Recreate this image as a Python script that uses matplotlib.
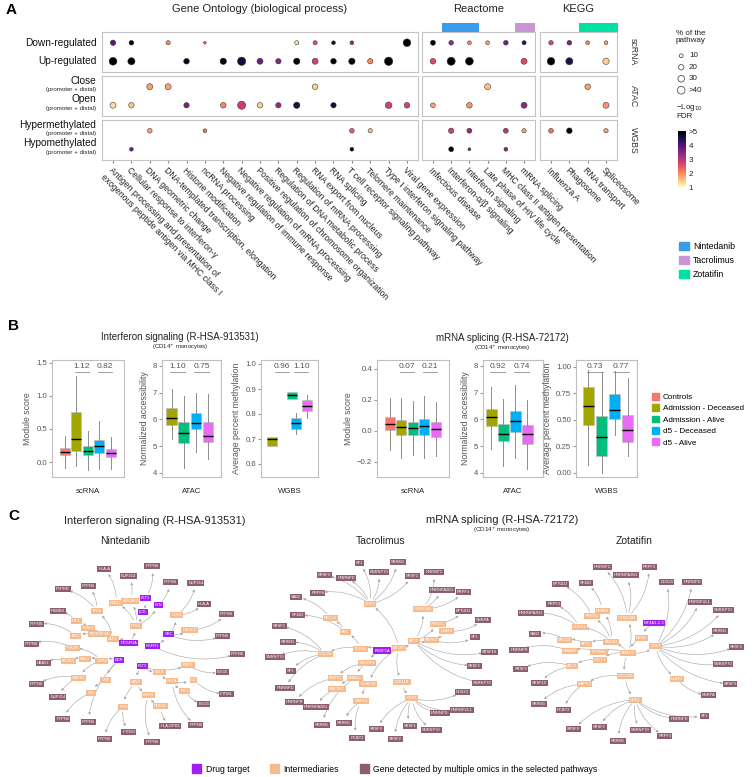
import numpy as np
import matplotlib
matplotlib.use("Agg")
import matplotlib.pyplot as plt
import matplotlib.transforms as mtransforms
from matplotlib.patches import Patch, Rectangle, FancyArrowPatch
from matplotlib.colors import Normalize
from matplotlib.cm import ScalarMappable

plt.rcParams['font.family'] = ['Liberation Sans', 'DejaVu Sans']

# ---------------- panel A data ----------------
row_labels = ['Down-regulated', 'Up-regulated', 'Close', 'Open', 'Hypermethylated', 'Hypomethylated']
row_subs = ['', '', '(promoter + distal)', '(promoter + distal)', '(promoter + distal)', '(promoter + distal)']
omics = ['scRNA', 'ATAC', 'WGBS']

go_terms = ['Antigen processing and presentation of\nexogenous peptide antigen via MHC class I',
            'Cellular response to interferon-γ', 'DNA geometric change',
            'DNA-templated transcription, elongation', 'Histone modification', 'ncRNA processing',
            'Negative regulation of immune response', 'Negative regulation of mRNA processing',
            'Positive regulation of chromosome organization', 'Regulation of DNA metabolic process',
            'Regulation of mRNA processing', 'RNA export from nucleus', 'RNA splicing',
            'T cell receptor signaling pathway', 'Telomere maintenance',
            'Type I interferon signaling pathway', 'Viral gene expression']
go_pct = [[20, 15, 0, 12, 0, 5, 0, 0, 0, 0, 12, 12, 10, 10, 0, 0, 40],
          [42, 35, 0, 0, 22, 0, 28, 48, 25, 20, 28, 25, 22, 28, 20, 48, 0],
          [0, 0, 25, 25, 0, 0, 0, 0, 0, 0, 0, 22, 0, 0, 0, 0, 0],
          [25, 20, 0, 0, 20, 0, 22, 45, 22, 20, 28, 0, 20, 0, 0, 30, 22],
          [0, 0, 15, 0, 0, 10, 0, 0, 0, 0, 0, 0, 0, 15, 13, 0, 0],
          [0, 10, 0, 0, 0, 0, 0, 0, 0, 0, 0, 0, 0, 10, 0, 0, 0]]
go_fdr = [[3.9, 5, 0, 2.0, 0, 2.2, 0, 0, 0, 0, 1.3, 2.5, 4.6, 3.3, 0, 0, 5],
          [5, 5, 0, 0, 4.8, 0, 5, 4.6, 3.7, 3.5, 5, 2.7, 5, 5, 2.0, 5, 0],
          [0, 0, 1.8, 1.8, 0, 0, 0, 0, 0, 0, 0, 1.4, 0, 0, 0, 0, 0],
          [1.3, 1.5, 0, 0, 3.6, 0, 2.0, 2.8, 1.4, 3.3, 4.5, 0, 4.6, 0, 0, 2.7, 2.7],
          [0, 0, 1.8, 0, 0, 2.2, 0, 0, 0, 0, 0, 0, 0, 2.4, 1.6, 0, 0],
          [0, 3.7, 0, 0, 0, 0, 0, 0, 0, 0, 0, 0, 0, 4.8, 0, 0, 0]]

reactome_terms = ['Infectious disease', 'Interferon-α/β signaling', 'Interferon signaling',
                  'Late phase of HIV life cycle', 'MHC class II antigen presentation', 'mRNA splicing']
reactome_pct = [[18, 15, 10, 10, 15, 12],
                [22, 45, 42, 0, 0, 25],
                [0, 0, 0, 25, 0, 0],
                [15, 0, 22, 0, 0, 25],
                [0, 20, 17, 0, 17, 13],
                [0, 17, 6, 0, 10, 0]]
reactome_fdr = [[5, 3.3, 2.0, 1.8, 3.7, 4.3],
                [2.6, 5, 5, 0, 0, 2.6],
                [0, 0, 0, 1.5, 0, 0],
                [1.8, 0, 1.9, 0, 0, 3.4],
                [0, 2.8, 3.3, 0, 3.0, 1.8],
                [0, 5, 3.5, 0, 3.5, 0]]

kegg_terms = ['Influenza A', 'Phagosome', 'RNA transport', 'Spliceosome']
kegg_pct = [[14, 15, 10, 10], [40, 35, 0, 28], [0, 0, 22, 0],
            [0, 0, 0, 25], [15, 22, 0, 13], [0, 0, 0, 0]]
kegg_fdr = [[2.6, 3.6, 2.0, 1.8], [5, 4.5, 0, 1.4], [0, 0, 1.8, 0],
            [0, 0, 0, 1.9], [2.2, 5, 0, 1.8], [0, 0, 0, 0]]

drugs = ['Nintedanib', 'Tacrolimus', 'Zotatifin']
drug_colors = ['#3A9BE8', '#C896D4', '#00E0A0']
size_legend = [10, 20, 30, 40]
size_legend_labels = ['10', '20', '30', '>40']

# ---------------- panel B data (lo, q1, median, q3, hi) ----------------
b_groups = ['Controls', 'Admission - Deceased', 'Admission - Alive', 'd5 - Deceased', 'd5 - Alive']
b_colors = ['#F8766D', '#A3A500', '#00BF7D', '#00B0F6', '#E76BF3']

ifn_scrna = [(-0.09, 0.10, 0.15, 0.22, 0.40), (-0.065, 0.17, 0.345, 0.75, 1.30),
             (-0.115, 0.10, 0.165, 0.25, 0.47), (-0.105, 0.14, 0.24, 0.335, 0.62),
             (-0.105, 0.07, 0.135, 0.20, 0.385)]
ifn_atac = [(5.27, 5.80, 6.06, 6.41, 7.12), (4.17, 5.13, 5.48, 5.89, 6.87),
            (4.77, 5.63, 5.85, 6.25, 6.97), (4.51, 5.17, 5.39, 5.89, 6.94)]
ifn_wgbs = [(0.672, 0.672, 0.70, 0.709, 0.709), (0.861, 0.861, 0.876, 0.888, 0.888),
            (0.719, 0.742, 0.764, 0.784, 0.804), (0.786, 0.811, 0.834, 0.858, 0.878)]
mrna_scrna = [(-0.123, 0.002, 0.045, 0.086, 0.21), (-0.176, -0.03, 0.024, 0.067, 0.21),
              (-0.155, -0.03, 0.019, 0.056, 0.19), (-0.176, -0.03, 0.028, 0.075, 0.226),
              (-0.166, -0.039, 0.011, 0.054, 0.183)]
mrna_atac = [(4.90, 5.74, 6.09, 6.375, 7.21), (4.25, 5.19, 5.44, 5.84, 6.78),
             (4.55, 5.54, 5.93, 6.30, 7.30), (4.15, 5.08, 5.44, 5.78, 6.74)]
mrna_wgbs = [(0.07, 0.447, 0.625, 0.8125, 0.97), (0.0, 0.156, 0.3375, 0.5375, 0.953),
             (0.36, 0.509, 0.594, 0.744, 0.963), (0.156, 0.2875, 0.40, 0.544, 0.89)]

ifn_ratios = [['1.12', '0.82'], ['1.10', '0.75'], ['0.96', '1.10']]
mrna_ratios = [['0.07', '0.21'], ['0.92', '0.74'], ['0.73', '0.77']]

# ---------------- panel C data (parent -> children) ----------------
nint_targets = ['PDGFRA', 'FGFR1', 'FLT3', 'KDR', 'LCK', 'LYN', 'SRC']
nint_tree = {
    'ROOT': ['PDGFRA', 'FGFR1', 'FLT3', 'KDR'],
    'PDGFRA': ['JAK1', 'PTK2'],
    'JAK1': ['JAK2', 'TNFRSF1A', 'TYK2'],
    'JAK2': ['PTPN6'],
    'TNFRSF1A': ['TRAF2'], 'TRAF2': ['IRF1'], 'IRF1': ['PSMB8'],
    'TYK2': ['PTPRR', 'PTPN6'],
    'PTK2': ['STAT2', 'EIF2AK2', 'LCK', 'LYN'],
    'STAT2': ['HLA-A'], 'EIF2AK2': ['NUP214'],
    'LCK': ['FLT3 '], 'FLT3 ': ['PTPN6'], 'LYN': ['PTPN6'],
    'FGFR1': ['SRC', 'PTPN6'],
    'SRC': ['CDK1', 'PIK3CD', 'PTPN6'],
    'CDK1': ['NUP214', 'HLA-A'], 'PIK3CD': ['PTPN6'],
    'FLT3': ['STAT1', 'CBLB', 'CAV1'],
    'STAT1': ['ISG15'], 'CBLB': ['RELA'], 'RELA': ['C3', 'IRF3', 'PTPN6'],
    'C3': ['IFITM1'], 'IRF3': ['ISG15'],
    'CAV1': ['EGFR', 'FYN'], 'EGFR': ['RNF31', 'PTPN6'], 'RNF31': ['HLA-DPB1'],
    'FYN': ['IFITM3', 'PTPN6'],
    'KDR': ['PTPN6', 'CRK', 'GRB2'], 'CRK': ['CBL'], 'CBL': ['PTPN6'],
    'GRB2': ['MAPK1', 'PAK1', 'PTK2B'], 'MAPK1': ['NUP214', 'PTPN6'],
    'PAK1': ['ACVR1'], 'ACVR1': ['UBA52'], 'PTK2B': ['PTPN6'],
}
tacro_targets = ['FKBP1A']
tacro_tree = {
    'FKBP1A': ['TGFB1', 'MTOR', 'SMURF1'],
    'TGFB1': ['CDC20', 'SRC'],
    'CDC20': ['HNRNPD', 'SF1', 'SNRNP70', 'SRRM1', 'SRSF2'],
    'SRC': ['SF3B2', 'ERCC2'], 'ERCC2': ['XAB2'],
    'MTOR': ['CDK2', 'AKT1', 'CDK11B', 'DUSP16'],
    'CDK2': ['PRPF8', 'SRSF9', 'HNRNPD', 'SF1', 'SNRNP70', 'SRRM1', 'SRSF2'],
    'AKT1': ['CSNK2A1', 'PRKDC', 'SRPK2', 'SRSF10', 'SRSF2', 'SNRNP70'],
    'CSNK2A1': ['HNRNPC', 'HNRNPA2B1', 'PRPF3'], 'PRKDC': ['EFTUD2'],
    'SRPK2': ['U2AF2', 'SF1'], 'U2AF2': ['SNRPA'],
    'CDK11B': ['CDK1'],
    'CDK1': ['DDX23', 'HNRNPUL1', 'HNRNPD', 'SNRNP70', 'SRSF1', 'SRSF2', 'SRSF9'],
    'DUSP16': ['MAPK1'], 'MAPK1': ['PCBP2', 'SRRM1'],
    'SMURF1': ['SMAD2', 'RNPS1'], 'SMAD2': ['SRRM1', 'MAP3K7'],
    'MAP3K7': ['HNRNPA2B1'], 'RNPS1': ['HNRNPR'],
}
zota_targets = ['EIF4A1-2-3']
zota_tree = {
    'EIF4A1-2-3': ['EIF4E'], 'EIF4E': ['SMAD3'],
    'SMAD3': ['TGFBR1', 'BRCA1', 'CSNK2A1', 'CDK1', 'CDC25B', 'CSTF1'],
    'TGFBR1': ['SMAD2'], 'SMAD2': ['HNRNPR'],
    'BRCA1': ['AKT1', 'CHEK1', 'PRKDC', 'RBBP8'],
    'AKT1': ['ERCC2'], 'ERCC2': ['XAB2'],
    'CHEK1': ['HNRNPA2B1', 'PRPF3'], 'PRKDC': ['EFTUD2'], 'RBBP8': ['SF3B2'],
    'CSNK2A1': ['HNRNPC', 'HNRNPA2B1', 'PRPF3'],
    'CDK1': ['DDX23', 'HNRNPD', 'HNRNPUL1', 'SNRNP70', 'SRRM1', 'SRSF2', 'SNRNP70', 'SRSF9', 'U2AF2'],
    'U2AF2': ['SNRPA'],
    'CDC25B': ['CDK2', 'MAPK3'],
    'CDK2': ['SF1', 'HNRNPD', 'PRPF3', 'SNRNP70', 'SRRM1', 'SRSF2', 'SRSF9'],
    'MAPK3': ['PCBP2', 'SRRM1'],
    'CSTF1': ['AKT3'], 'AKT3': ['SRSF10', 'SRSF2'],
}

# ---------------- figure ----------------
W, H = 754, 777
fig = plt.figure(figsize=(7.54, 7.77), dpi=100)


def box(l, t, w, h):
    return [l / W, 1 - (t + h) / H, w / W, h / H]


def ftext(x, y, s, **kw):
    fig.text(x / W, 1 - y / H, s, **kw)


GRID = '#C4C4C4'

# ---- Panel A ----
ftext(6, 10, 'A', fontsize=11, fontweight='bold', va='center')
dbs = [(go_terms, go_pct, go_fdr, 102, 316, 'Gene Ontology (biological process)'),
       (reactome_terms, reactome_pct, reactome_fdr, 422, 113, 'Reactome'),
       (kegg_terms, kegg_pct, kegg_fdr, 540, 77, 'KEGG')]
bars = {1: [(0.5, 2.5, drug_colors[0]), (4.5, 5.6, drug_colors[1])],
        2: [(1.5, 3.65, drug_colors[2])]}
tops = [32, 76, 120]
for gi, (terms, pct, fdr, left, width, title) in enumerate(dbs):
    n = len(terms)
    ftext(left + width / 2, 9, title, fontsize=8, ha='center', va='center', color='#222222')
    for bi, top in enumerate(tops):
        ax = fig.add_axes(box(left, top, width, 40))
        xs, ys, ss, cs = [], [], [], []
        for r in range(2):
            row = 2 * bi + r
            for j in range(n):
                if pct[row][j] > 0:
                    xs.append(j)
                    ys.append(r)
                    ss.append(pct[row][j] * 0.75)
                    cs.append(fdr[row][j])
        if xs:
            ax.scatter(xs, ys, s=ss, c=cs, cmap='magma_r', vmin=1, vmax=5,
                       edgecolors='#2b2b2b', linewidths=0.35, zorder=3)
        ax.set_xlim(-0.6, n - 0.4)
        ax.set_ylim(1.58, -0.58)
        for sp in ax.spines.values():
            sp.set_color(GRID)
            sp.set_linewidth(0.8)
        ax.tick_params(length=0)
        ax.set_yticks([])
        if bi == 2:
            ax.set_xticks(range(n))
            ax.set_xticklabels(terms, rotation=-45, ha='left', va='top',
                               rotation_mode='anchor', fontsize=6.2, color='#222222')
            ax.tick_params(axis='x', length=2, color='#888888', pad=2)
        else:
            ax.set_xticks([])
        if gi == 0:
            tr = mtransforms.blended_transform_factory(ax.transAxes, ax.transData)
            for r in range(2):
                row = 2 * bi + r
                if row_subs[row]:
                    ax.annotate(row_labels[row], xy=(0, r), xycoords=tr, xytext=(-4, 4.2),
                                textcoords='offset points', ha='right', va='center',
                                fontsize=7.3, color='#111111')
                    ax.annotate(row_subs[row], xy=(0, r), xycoords=tr, xytext=(-4, -2.0),
                                textcoords='offset points', ha='right', va='center',
                                fontsize=4.4, color='#222222')
                else:
                    ax.annotate(row_labels[row], xy=(0, r), xycoords=tr, xytext=(-4, 0),
                                textcoords='offset points', ha='right', va='center',
                                fontsize=7.3, color='#111111')
        if bi == 0 and gi in bars:
            tr = mtransforms.blended_transform_factory(ax.transData, ax.transAxes)
            for x0, x1, c in bars[gi]:
                ax.add_patch(Rectangle((x0, 1.0), x1 - x0, 9 / 40, transform=tr,
                                       color=c, clip_on=False, lw=0))

for k, name in enumerate(omics):
    ftext(633, 52 + 44 * k, name, rotation=270, ha='center', va='center', fontsize=6.3, color='#333333')

# size legend
ftext(676, 30, '% of the\npathway', fontsize=5.8, va='top', ha='left', color='#222222', linespacing=1.1)
lax = fig.add_axes(box(676, 50, 40, 46))
lax.scatter([0] * 4, range(4), s=[v * 0.75 for v in size_legend], facecolors='none',
            edgecolors='#333333', linewidths=0.5)
for k, lab in enumerate(size_legend_labels):
    lax.text(0.9, k, lab, va='center', ha='left', fontsize=5.8, color='#222222')
lax.set_xlim(-0.6, 4)
lax.set_ylim(3.5, -0.5)
lax.axis('off')

ftext(676, 102, '−Log$_{10}$\nFDR', fontsize=5.8, va='top', ha='left', color='#222222', linespacing=1.0)
cax = fig.add_axes(box(678, 131, 8, 56))
cb = fig.colorbar(ScalarMappable(norm=Normalize(1, 5), cmap='magma_r'), cax=cax)
cb.set_ticks([1, 2, 3, 4, 5])
cb.set_ticklabels(['1', '2', '3', '4', '>5'])
cb.outline.set_visible(False)
cax.tick_params(length=0, labelsize=5.8, pad=2, colors='#222222')

fig.legend(handles=[Patch(color=c, label=d) for d, c in zip(drugs, drug_colors)],
           loc='upper left', bbox_to_anchor=(671 / W, 1 - 234 / H), frameon=False,
           fontsize=6.3, handlelength=1.1, handleheight=1.1, labelspacing=0.55, handletextpad=0.5)

# ---- Panel B ----
ftext(8, 326, 'B', fontsize=11, fontweight='bold', va='center')
ftext(180, 337, 'Interferon signaling (R-HSA-913531)', fontsize=7, ha='center', va='center', color='#222222')
ftext(180, 347, '(CD14$^{+}$ monocytes)', fontsize=4.4, ha='center', va='center', color='#222222')
ftext(502, 338, 'mRNA splicing (R-HSA-72172)', fontsize=7, ha='center', va='center', color='#222222')
ftext(502, 348, '(CD14$^{+}$ monocytes)', fontsize=4.4, ha='center', va='center', color='#222222')

b_panels = [
    (52, 72, ifn_scrna, ifn_ratios[0], 'Module score', 'scRNA', (-0.225, 1.54), [0, 0.5, 1.0, 1.5],
     [0, 1, 2, 3, 4], (-1.1, 5.15)),
    (162, 59, ifn_atac, ifn_ratios[1], 'Normalized accessibility', 'ATAC', (3.85, 8.22), [4, 5, 6, 7, 8],
     [0, 1, 2, 3], (-0.8, 4.1)),
    (261, 57, ifn_wgbs, ifn_ratios[2], 'Average percent methylation', 'WGBS', (0.548, 1.016),
     [0.6, 0.7, 0.8, 0.9, 1.0], [0, 1.75, 2.1, 3.05], (-0.96, 4.05)),
    (377, 72, mrna_scrna, mrna_ratios[0], 'Module score', 'scRNA', (-0.30, 0.458), [-0.2, 0.0, 0.2, 0.4],
     [0, 1, 2, 3, 4], (-1.1, 5.15)),
    (483, 60, mrna_atac, mrna_ratios[1], 'Normalized accessibility', 'ATAC', (3.85, 8.22), [4, 5, 6, 7, 8],
     [0, 1, 2, 3], (-0.7, 4.3)),
    (576, 61, mrna_wgbs, mrna_ratios[2], 'Average percent methylation', 'WGBS', (-0.04, 1.0625),
     [0, 0.25, 0.5, 0.75, 1.0], [0, 1, 2, 3], (-0.95, 3.7)),
]
for left, width, stats, ratios, ylab, xlab, ylim, yticks, pos, xlim in b_panels:
    ax = fig.add_axes(box(left, 360, width, 117))
    cols = b_colors[-len(stats):]
    st = [dict(whislo=s[0], q1=s[1], med=s[2], q3=s[3], whishi=s[4], fliers=[]) for s in stats]
    res = ax.bxp(st, positions=pos, widths=0.86, showfliers=False, showcaps=False, patch_artist=True,
                 boxprops=dict(edgecolor='#BDBDBD', linewidth=0.5),
                 whiskerprops=dict(color='#8C8C8C', linewidth=0.7),
                 medianprops=dict(color='black', linewidth=1.0))
    for b, c in zip(res['boxes'], cols):
        b.set_facecolor(c)
    ax.set_xlim(*xlim)
    ax.set_ylim(*ylim)
    ax.set_yticks(yticks)
    ax.set_xticks([])
    ax.set_xlabel(xlab, fontsize=5.6, color='#222222', labelpad=8)
    ax.set_ylabel(ylab, fontsize=6.3, color='#555555', labelpad=3)
    ax.tick_params(axis='y', length=2, color='#999999', labelsize=5.6, labelcolor='#555555', pad=1.5)
    for sp in ax.spines.values():
        sp.set_color('#BFBFBF')
        sp.set_linewidth(0.8)
    tr = mtransforms.blended_transform_factory(ax.transData, ax.transAxes)
    n = len(pos)
    pairs = [(n - 4, n - 3), (n - 2, n - 1)]
    for (a, b), lab in zip(pairs, ratios):
        xm = (pos[a] + pos[b]) / 2
        ax.text(xm, 0.945, lab, transform=tr, ha='center', va='center', fontsize=6, color='#555555')
        ax.plot([xm - 0.62, xm + 0.62], [0.895, 0.895], transform=tr, color='#777777', lw=0.5)

fig.legend(handles=[Patch(color=c, label=g) for g, c in zip(b_groups, b_colors)],
           loc='upper left', bbox_to_anchor=(647 / W, 1 - 388 / H), frameon=False,
           fontsize=5.9, handlelength=0.9, handleheight=0.9, labelspacing=0.38, handletextpad=0.4,
           borderaxespad=0.2)


# ---- Panel C ----
def draw_network(ax, tree, root, targets, start_deg, chain_step=(-0.08, 0.2)):
    nodes = []

    def rec(label, parent, depth):
        idx = len(nodes)
        nodes.append({'label': label, 'parent': parent, 'kids': []})
        for c in tree.get(label, []):
            nodes[idx]['kids'].append(rec(c, idx, depth + 1))
        return idx

    rec(root, None, 0)
    chain = [0]
    while len(nodes[chain[-1]]['kids']) == 1:
        chain.append(nodes[chain[-1]]['kids'][0])
    base = chain[-1]
    leaves = []

    def collect(i):
        if not nodes[i]['kids']:
            leaves.append(i)
        for k in nodes[i]['kids']:
            collect(k)

    collect(base)
    n = len(leaves)
    ang, pos = {}, {}
    for i, li in enumerate(leaves):
        a = np.deg2rad(start_deg - 360.0 * i / n)
        r = 1.0 if i % 2 == 0 else 0.88
        ang[li] = a
        pos[li] = (r * np.cos(a), r * np.sin(a))

    # returns (leaf angles, height below node)
    def place(i, d):
        if not nodes[i]['kids']:
            return [ang[i]], 0
        a, h = [], 0
        for k in nodes[i]['kids']:
            ak, hk = place(k, d + 1)
            a += ak
            h = max(h, hk + 1)
        if i != base:
            m = np.mean(a)
            r = 0.8 * d / (d + h)
            pos[i] = (r * np.cos(m), r * np.sin(m))
        return a, h

    place(base, 0)
    pos[base] = (0.0, 0.0)
    for k, i in enumerate(reversed(chain[:-1])):
        pos[i] = (chain_step[0] * (k + 1), chain_step[1] * (k + 1))

    for i, nd in enumerate(nodes):
        p = nd['parent']
        if p is None or nodes[p]['label'] == 'ROOT':
            continue
        ax.add_patch(FancyArrowPatch(pos[p], pos[i], arrowstyle='-|>', mutation_scale=3.5,
                                     color='#ABABAB', lw=0.45, connectionstyle='arc3,rad=0.2',
                                     shrinkA=4, shrinkB=5, zorder=1))
    for i, nd in enumerate(nodes):
        lab = nd['label'].strip()
        if lab == 'ROOT':
            continue
        if lab in targets:
            col = '#A11FF2'
        elif not nd['kids']:
            col = '#8D5E6B'
        else:
            col = '#F7BA8C'
        x, y = pos[i]
        ax.text(x, y, lab, fontsize=2.9, color='white', ha='center', va='center', zorder=3,
                bbox=dict(boxstyle='square,pad=0.25', fc=col, ec='none'))
    ax.set_xlim(-1.12, 1.12)
    ax.set_ylim(-1.1, 1.1)
    ax.axis('off')


ftext(8, 516, 'C', fontsize=11, fontweight='bold', va='center')
ftext(155, 521, 'Interferon signaling (R-HSA-913531)', fontsize=8, ha='center', va='center', color='#222222')
ftext(502, 520, 'mRNA splicing (R-HSA-72172)', fontsize=8, ha='center', va='center', color='#222222')
ftext(502, 530, '(CD14$^{+}$ monocytes)', fontsize=4.5, ha='center', va='center', color='#222222')
ftext(125, 541, drugs[0], fontsize=7.5, ha='center', va='center', color='#222222')
ftext(381, 541, drugs[1], fontsize=7.5, ha='center', va='center', color='#222222')
ftext(634, 541, drugs[2], fontsize=7.5, ha='center', va='center', color='#222222')

ax = fig.add_axes(box(18, 556, 232, 196))
draw_network(ax, nint_tree, 'ROOT', nint_targets, 160)
ax = fig.add_axes(box(262, 552, 240, 197))
draw_network(ax, tacro_tree, 'FKBP1A', tacro_targets, 205)
ax = fig.add_axes(box(506, 556, 244, 194))
draw_network(ax, zota_tree, 'EIF4A1-2-3', zota_targets, 178, chain_step=(0.12, 0.17))

fig.legend(handles=[Patch(color='#A11FF2', label='Drug target'),
                    Patch(color='#F7BA8C', label='Intermediaries'),
                    Patch(color='#8D5E6B', label='Gene detected by multiple omics in the selected pathways')],
           loc='center left', bbox_to_anchor=(184 / W, 1 - 769 / H), ncol=3, frameon=False,
           fontsize=6.2, handlelength=1.1, handleheight=1.1, handletextpad=0.5, columnspacing=2.4)

fig.savefig('out.png', dpi=100)
